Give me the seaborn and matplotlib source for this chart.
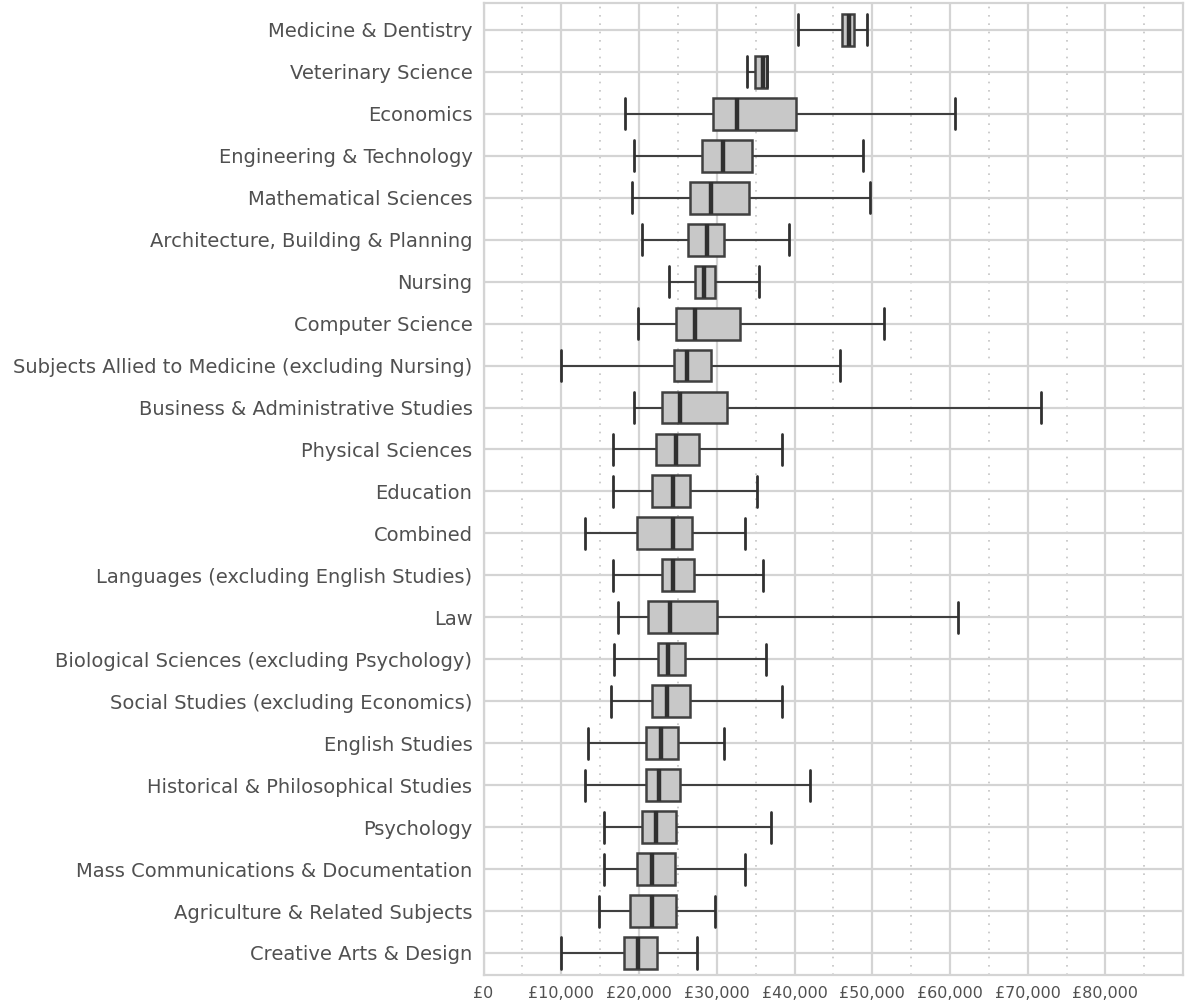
import pandas as pd
import numpy as np
import matplotlib
matplotlib.use('Agg')
import matplotlib.pyplot as plt
from matplotlib.ticker import FuncFormatter, MultipleLocator
import seaborn as sns

# 学科ごとの初任給（五数要約）
subjects = [
    'Medicine & Dentistry', 'Veterinary Science', 'Economics',
    'Engineering & Technology', 'Mathematical Sciences',
    'Architecture, Building & Planning', 'Nursing', 'Computer Science',
    'Subjects Allied to Medicine (excluding Nursing)',
    'Business & Administrative Studies', 'Physical Sciences', 'Education',
    'Combined', 'Languages (excluding English Studies)', 'Law',
    'Biological Sciences (excluding Psychology)',
    'Social Studies (excluding Economics)', 'English Studies',
    'Historical & Philosophical Studies', 'Psychology',
    'Mass Communications & Documentation', 'Agriculture & Related Subjects',
    'Creative Arts & Design',
]
mins = [40500, 33900, 18200, 19300, 19100, 20400, 23800, 19800, 10000,
        19300, 16600, 16600, 13000, 16600, 17300, 16800, 16400, 13400,
        13000, 15500, 15500, 14800, 10000]
q1s = [46100, 34900, 29500, 28100, 26500, 26300, 27200, 24700, 24500,
       22900, 22200, 21600, 19700, 22900, 21100, 22400, 21600, 20900,
       20900, 20400, 19700, 18800, 18100]
medians = [47000, 35900, 32600, 30800, 29200, 28700, 28300, 27200, 26200,
           25300, 24700, 24400, 24400, 24400, 24000, 23700, 23600, 22800,
           22600, 22200, 21700, 21700, 19900]
q3s = [47700, 36500, 40200, 34500, 34100, 30900, 29800, 33000, 29300,
       31300, 27700, 26600, 26800, 27100, 30000, 25900, 26600, 25000,
       25300, 24800, 24600, 24800, 22300]
maxs = [49300, 36500, 60600, 48800, 49700, 39300, 35400, 51500, 45900,
        71700, 38400, 35200, 33600, 35900, 61000, 36300, 38400, 30900,
        42000, 37000, 33600, 29800, 27500]

rows = []
for s, a, b, c, d, e in zip(subjects, mins, q1s, medians, q3s, maxs):
    for v in (a, b, c, d, e):
        rows.append({'subject': s, 'salary': v})
df = pd.DataFrame(rows)

sns.set_style('whitegrid')
plt.rcParams['font.family'] = ['DejaVu Sans']

fig = plt.figure(figsize=(12, 10.06), dpi=100)
ax = fig.add_axes([0.403, 0.031, 0.583, 0.966])

edge = '#404040'
sns.boxplot(data=df, x='salary', y='subject', order=subjects, ax=ax,
            whis=(0, 100), width=0.76, color='#c8c8c8', linecolor=edge,
            linewidth=1.6, capwidths=0.74,
            boxprops=dict(facecolor='#c8c8c8', edgecolor=edge, linewidth=1.8),
            medianprops=dict(color='#303030', linewidth=3.2),
            whiskerprops=dict(color=edge, linewidth=1.5),
            capprops=dict(color='#303030', linewidth=2))

ax.set_xlim(0, 90000)
ax.set_ylim(22.52, -0.64)
ax.set_axisbelow(True)
ax.xaxis.set_minor_locator(MultipleLocator(5000))
ax.set_xticks(np.arange(0, 90000, 10000))
ax.xaxis.set_major_formatter(FuncFormatter(lambda v, p: f'£{v:,.0f}'))
ax.grid(which='major', axis='both', color='#d4d4d4', linewidth=1.6, linestyle='-')
ax.grid(which='minor', axis='x', color='#c4c4c4', linewidth=1.2, linestyle=(0, (1, 4)))
ax.tick_params(axis='both', which='major', labelcolor='#505050',
               length=4, color='#d4d4d4', width=1.2)
ax.tick_params(axis='y', labelsize=14, pad=4)
ax.tick_params(axis='x', labelsize=11.5, pad=4)
ax.tick_params(axis='x', which='minor', length=0)
for sp in ax.spines.values():
    sp.set_color('#d4d4d4')
    sp.set_linewidth(1.6)
ax.set_xlabel('')
ax.set_ylabel('')

fig.savefig('out.png', dpi=100)
